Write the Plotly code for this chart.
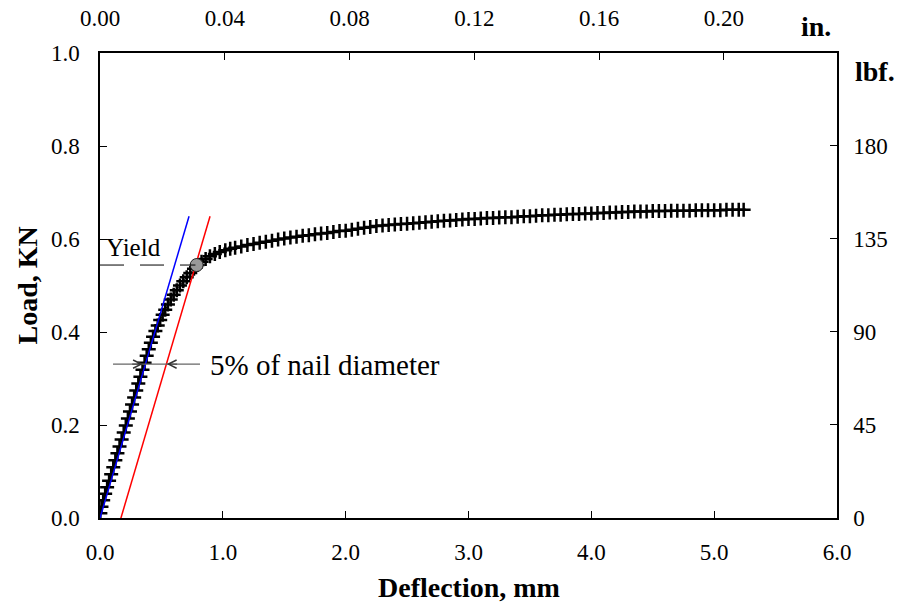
import plotly.graph_objects as go

# ---------------- data ----------------
defl_mm = [0.003, 0.012, 0.026, 0.042, 0.058, 0.074, 0.091, 0.108, 0.125, 0.142,
           0.159, 0.176, 0.193, 0.210, 0.227, 0.244, 0.261, 0.278, 0.295, 0.312,
           0.329, 0.346, 0.363, 0.380, 0.397, 0.414, 0.432, 0.451, 0.470, 0.490,
           0.510, 0.531, 0.553, 0.576, 0.600, 0.625, 0.651, 0.678, 0.706, 0.735,
           0.765, 0.795, 0.827, 0.860, 0.895, 0.935, 0.975, 1.02, 1.06, 1.10,
           1.15, 1.20, 1.25, 1.30, 1.35, 1.40, 1.45, 1.50, 1.55, 1.60,
           1.65, 1.70, 1.75, 1.80, 1.85, 1.90, 1.95, 2.00, 2.05, 2.10,
           2.15, 2.20, 2.25, 2.30, 2.35, 2.40, 2.45, 2.50, 2.55, 2.60,
           2.65, 2.70, 2.75, 2.80, 2.85, 2.90, 2.95, 3.00, 3.05, 3.10,
           3.15, 3.20, 3.25, 3.30, 3.35, 3.40, 3.45, 3.50, 3.55, 3.60,
           3.65, 3.70, 3.75, 3.80, 3.85, 3.90, 3.95, 4.00, 4.05, 4.10,
           4.15, 4.20, 4.25, 4.30, 4.35, 4.40, 4.45, 4.50, 4.55, 4.60,
           4.65, 4.70, 4.75, 4.80, 4.85, 4.90, 4.95, 5.00, 5.05, 5.10,
           5.15, 5.20, 5.24]
load_kn = [0.010, 0.024, 0.038, 0.052, 0.066, 0.080, 0.094, 0.109, 0.124, 0.139,
           0.154, 0.169, 0.184, 0.199, 0.214, 0.229, 0.244, 0.259, 0.274, 0.289,
           0.304, 0.319, 0.334, 0.349, 0.363, 0.377, 0.390, 0.402, 0.414, 0.426,
           0.437, 0.448, 0.459, 0.470, 0.480, 0.490, 0.500, 0.509, 0.518, 0.527,
           0.536, 0.544, 0.551, 0.557, 0.563, 0.568, 0.572, 0.576, 0.579, 0.581,
           0.584, 0.587, 0.589, 0.592, 0.594, 0.596, 0.599, 0.601, 0.603, 0.605,
           0.607, 0.608, 0.610, 0.612, 0.613, 0.615, 0.617, 0.618, 0.620, 0.622,
           0.624, 0.626, 0.628, 0.629, 0.630, 0.631, 0.632, 0.633, 0.634, 0.635,
           0.636, 0.637, 0.638, 0.639, 0.640, 0.641, 0.642, 0.643, 0.643, 0.644,
           0.645, 0.645, 0.646, 0.647, 0.647, 0.648, 0.649, 0.649, 0.650, 0.651,
           0.651, 0.652, 0.652, 0.653, 0.654, 0.654, 0.655, 0.655, 0.656, 0.656,
           0.657, 0.657, 0.658, 0.658, 0.659, 0.659, 0.659, 0.660, 0.660, 0.660,
           0.661, 0.661, 0.661, 0.661, 0.662, 0.662, 0.662, 0.662, 0.662, 0.663,
           0.663, 0.663, 0.663]

tangent_x = [-0.013, 0.725]
tangent_y = [-0.012, 0.649]
offset_x = [0.157, 0.896]
offset_y = [-0.012, 0.649]
yield_x = [0.787]
yield_y = [0.544]

x_ticks = [0, 1, 2, 3, 4, 5, 6]
x_labels = ["0.0", "1.0", "2.0", "3.0", "4.0", "5.0", "6.0"]
y_ticks = [0, 0.2, 0.4, 0.6, 0.8, 1.0]
y_labels = ["0.0", "0.2", "0.4", "0.6", "0.8", "1.0"]
in_ticks = [0, 0.04, 0.08, 0.12, 0.16, 0.20]
in_labels = ["0.00", "0.04", "0.08", "0.12", "0.16", "0.20"]
lbf_ticks = [0, 45, 90, 135, 180]
lbf_labels = ["0", "45", "90", "135", "180"]

MM_PER_IN = 25.4
LBF_PER_KN = 224.809
X_MAX = 6.0
Y_MAX = 1.0

FONT = '"Liberation Serif", "Times New Roman", Times, serif'

fig = go.Figure()

fig.add_trace(go.Scatter(
    x=defl_mm, y=load_kn, mode="lines+markers",
    line=dict(color="black", width=1),
    marker=dict(symbol="cross-thin", size=10, line=dict(color="black", width=2.5)),
    showlegend=False, hoverinfo="skip"))

fig.add_trace(go.Scatter(x=tangent_x, y=tangent_y, mode="lines",
                         line=dict(color="#0000ff", width=1.5),
                         showlegend=False, hoverinfo="skip"))
fig.add_trace(go.Scatter(x=offset_x, y=offset_y, mode="lines",
                         line=dict(color="#ff0000", width=1.5),
                         showlegend=False, hoverinfo="skip"))
fig.add_trace(go.Scatter(x=yield_x, y=yield_y, mode="markers",
                         marker=dict(symbol="circle", size=13, color="#999999",
                                     line=dict(color="#222222", width=1)),
                         showlegend=False, hoverinfo="skip"))

# invisible trace to activate secondary axes
fig.add_trace(go.Scatter(x=[0], y=[0], xaxis="x2", yaxis="y2", mode="markers",
                         marker=dict(opacity=0), showlegend=False, hoverinfo="skip"))

# yield dashed line
fig.add_shape(type="line", xref="x", yref="y", x0=0, x1=yield_x[0] - 0.01,
              y0=yield_y[0], y1=yield_y[0],
              line=dict(color="black", width=1, dash="24px,16px"))

# 5% arrow line
arrow_y = 0.331
fig.add_shape(type="line", xref="x", yref="y", x0=0.106, x1=0.814,
              y0=arrow_y, y1=arrow_y, line=dict(color="#666666", width=1.2))
for tip, tail in [(0.350, 0.25), (0.543, 0.64)]:
    fig.add_annotation(x=tip, y=arrow_y, ax=tail, ay=arrow_y, xref="x", yref="y",
                       axref="x", ayref="y", text="", showarrow=True,
                       arrowhead=5, arrowsize=1.6, arrowwidth=1, arrowcolor="#333333")

fig.add_annotation(x=0.035, y=0.581, xref="x", yref="y", text="Yield",
                   showarrow=False, xanchor="left", yanchor="middle",
                   font=dict(family=FONT, size=25, color="black"))
fig.add_annotation(x=0.88, y=0.329, xref="x", yref="y", text="5% of nail diameter",
                   showarrow=False, xanchor="left", yanchor="middle",
                   font=dict(family=FONT, size=29, color="black"))

title_font = dict(family=FONT, size=28, color="black")
fig.add_annotation(x=0.5, y=-0.1505, xref="paper", yref="paper",
                   text="<b>Deflection, mm</b>", showarrow=False,
                   xanchor="center", yanchor="middle", font=title_font)
fig.add_annotation(x=-0.0977, y=0.5, xref="paper", yref="paper",
                   text="<b>Load, KN</b>", showarrow=False, textangle=-90,
                   xanchor="center", yanchor="middle", font=title_font)
fig.add_annotation(x=0.9715, y=1.058, xref="paper", yref="paper",
                   text="<b>in.</b>", showarrow=False,
                   xanchor="center", yanchor="middle", font=title_font)
fig.add_annotation(x=1.0516, y=0.96, xref="paper", yref="paper",
                   text="<b>lbf.</b>", showarrow=False,
                   xanchor="center", yanchor="middle", font=title_font)

tick_font = dict(family=FONT, size=23, color="black")
axis_common = dict(showgrid=False, zeroline=False, showline=True, linecolor="black",
                   linewidth=1.5, ticks="inside", ticklen=7, tickwidth=1,
                   tickcolor="black", tickfont=tick_font, automargin=False)

fig.update_layout(
    width=899, height=609,
    margin=dict(l=100, r=62, t=53, b=91, autoexpand=False),
    paper_bgcolor="white", plot_bgcolor="white",
    font=dict(family=FONT, color="black"),
    xaxis=dict(range=[0, X_MAX], tickmode="array", tickvals=x_ticks, ticktext=x_labels,
               ticklabelstandoff=13, **axis_common),
    yaxis=dict(range=[0, Y_MAX], tickmode="array", tickvals=y_ticks, ticktext=y_labels,
               ticklabelstandoff=14, **axis_common),
    xaxis2=dict(range=[0, X_MAX / MM_PER_IN], overlaying="x", side="top",
                tickmode="array", tickvals=in_ticks, ticktext=in_labels,
                ticklabelstandoff=16, **axis_common),
    yaxis2=dict(range=[0, Y_MAX * LBF_PER_KN], overlaying="y", side="right",
                tickmode="array", tickvals=lbf_ticks, ticktext=lbf_labels,
                ticklabelstandoff=10, **axis_common),
)

fig.write_html("out.html")
